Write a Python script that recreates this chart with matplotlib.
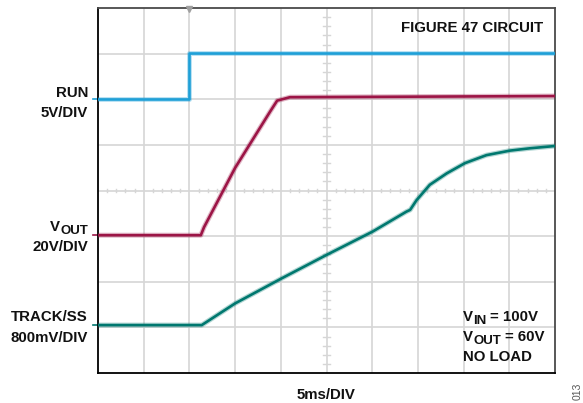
import matplotlib
matplotlib.use("Agg")
import matplotlib.pyplot as plt
import matplotlib.transforms as mtransforms

plt.rcParams['font.family'] = ['Liberation Sans', 'DejaVu Sans']

# time base 5 ms/div, 10 divisions
ms_per_div = 5.0

# RUN, 5 V/div, ground at 6 div
run_t = [0, 10.0, 10.0, 50]
run_v = [0, 0, 5.1, 5.1]
run_scale, run_offset = 5.0, 6.0

# VOUT, 20 V/div, ground at 3 div
vout_t = [0, 11.25, 11.6, 15.0, 18.8, 19.6, 21.0, 50]
vout_v = [0, 0, 3.5, 29.5, 54.0, 59.0, 60.5, 61.0]
vout_scale, vout_offset = 20.0, 3.02

# TRACK/SS, 800 mV/div, ground at 1.05 div
trk_t = [0, 11.35, 15.0, 20.1, 25.0, 30.05, 33.75, 34.15, 34.85, 35.55,
         36.3, 38.15, 40.15, 42.5, 45.1, 47.25, 50]
trk_v = [0, 0, 0.38, 0.82, 1.23, 1.64, 1.99, 2.02, 2.19, 2.32,
         2.46, 2.66, 2.84, 2.98, 3.06, 3.10, 3.14]
trk_scale, trk_offset = 0.8, 1.05

c_run = '#1ea0d8'
c_vout = '#9c1546'
c_trk = '#00786f'
c_grid = '#d6d6d6'

fig = plt.figure(figsize=(5.83, 4.03), dpi=100)
ax = fig.add_axes([98 / 583, 1 - 373 / 403, 457 / 583, 365 / 403])
ax.set_xlim(0, 10)
ax.set_ylim(0, 8)
ax.set_xticks([])
ax.set_yticks([])

for i in range(1, 10):
    ax.axvline(i, color=c_grid, lw=1.2, zorder=1)
for j in range(1, 8):
    ax.axhline(j, color=c_grid, lw=1.2, zorder=1)

# minor ticks on the centre cross
for k in range(1, 50):
    x = k * 0.2
    if k % 5:
        ax.plot([x, x], [3.96, 4.04], color=c_grid, lw=1.0, zorder=1)
for k in range(1, 40):
    y = k * 0.2
    if k % 5:
        ax.plot([4.93, 5.07], [y, y], color=c_grid, lw=1.0, zorder=1)

for sp in ['left', 'bottom']:
    ax.spines[sp].set_color('black')
    ax.spines[sp].set_linewidth(1.3)
for sp in ['top', 'right']:
    ax.spines[sp].set_color('#4a4a4a')
    ax.spines[sp].set_linewidth(1.3)


def trace(t, v, scale, offset, color):
    xs = [a / ms_per_div for a in t]
    ys = [offset + b / scale for b in v]
    ax.plot(xs, ys, color=color, lw=3.6, alpha=0.3, zorder=3,
            solid_joinstyle='round')
    ax.plot(xs, ys, color=color, lw=1.9, zorder=4, solid_joinstyle='round')
    # ground marker left of the graticule
    tr = mtransforms.blended_transform_factory(ax.transAxes, ax.transData)
    ax.plot([-0.012, -0.002], [offset, offset], color=color, lw=1.2,
            transform=tr, clip_on=False)


trace(run_t, run_v, run_scale, run_offset, c_run)
trace(vout_t, vout_v, vout_scale, vout_offset, c_vout)
trace(trk_t, trk_v, trk_scale, trk_offset, c_trk)

# trigger marker
ax.plot([10.0 / ms_per_div], [7.97], marker='v', color='#a0a0a0',
        markersize=5, clip_on=False, zorder=5)

fig.canvas.draw()
renderer = fig.canvas.get_renderer()
H = 403
FS = 10.8


def chain(pieces, x, ypix, ha='left'):
    # pieces: (text, fontsize, baseline shift in px, gap before in px)
    texts = []
    for s, fs, dy, gap in pieces:
        t = fig.text(0, 0, s, fontsize=fs, fontweight='bold', color='#111111',
                     transform=None, va='baseline', ha='left')
        texts.append(t)
    widths = [t.get_window_extent(renderer).width for t in texts]
    total = sum(widths) + sum(p[3] for p in pieces)
    pos = x - total if ha == 'right' else x
    for t, w, p in zip(texts, widths, pieces):
        pos += p[3]
        t.set_position((pos, H - ypix - p[2]))
        pos += w


xr = 88
chain([("RUN", FS, 0, 0)], xr, 97, 'right')
chain([("5V/DIV", FS, 0, 0)], xr, 117, 'right')
chain([("V", FS, 0, 0), ("OUT", FS * 0.88, 3, 0)], xr, 231, 'right')
chain([("20V/DIV", FS, 0, 0)], xr, 251, 'right')
chain([("TRACK/SS", FS, 0, 0)], xr, 321, 'right')
chain([("800mV/DIV", FS, 0, 0)], xr, 342, 'right')

chain([("FIGURE 47 CIRCUIT", FS, 0, 0)], 543, 32, 'right')

xl = 463
chain([("V", FS, 0, 0), ("IN", FS * 0.88, 2.5, 0), ("= 100V", FS, 0, 4)], xl, 321)
chain([("V", FS, 0, 0), ("OUT", FS * 0.88, 3, 0), ("= 60V", FS, 0, 4)], xl, 341)
chain([("NO LOAD", FS, 0, 0)], xl, 361)

fig.text(0.5 * (98 + 555) / 583, 1 - 399 / H, "5ms/DIV", fontsize=FS,
         fontweight='bold', ha='center', va='baseline', color='#111111')
fig.text(578 / 583, 1 - 391 / H, "013", fontsize=7.5, rotation=90,
         ha='center', va='center', color='#555555')

fig.savefig("out.png", dpi=100)
